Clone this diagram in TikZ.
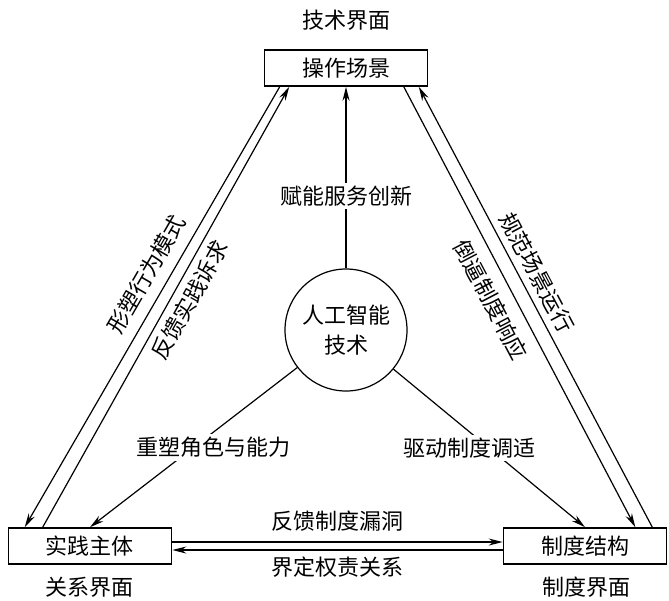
\documentclass[tikz,border=0pt]{standalone}
\usepackage{fontspec}
\setmainfont{Noto Sans CJK SC}
\usetikzlibrary{arrows.meta}
\tikzset{
	box/.style={draw, thick, minimum width=81.5pt, minimum height=18pt, inner sep=0pt},
	hub/.style={draw, semithick, circle, minimum size=61pt, inner sep=0pt, align=center, font=\fontsize{11}{15}\selectfont},
	link/.style={semithick, -{Stealth[length=7pt,width=3.5pt]}},
	tag/.style={fill=white, inner sep=1.5pt}
}
\begin{document}
\begin{tikzpicture}[x=0.5pt, y=-0.5pt, font=\fontsize{11}{13}\selectfont]
	\useasboundingbox (0,0) rectangle (669,600);
	% three interfaces
	\node[box] (scene) at (346,68) {操作场景};
	\node[box] (actor) at (90,546) {实践主体};
	\node[box] (rule) at (585,546) {制度结构};
	\node (techface) at (346,20) {技术界面};
	\node (relface) at (90,587) {关系界面};
	\node (ruleface) at (586,587) {制度界面};
	% centre
	\node[hub] (ai) at (346,330) {人工智能\\技术};
	\draw[link] (ai) -- (scene) node[tag, pos=0.4] {赋能服务创新};
	\draw[link] (ai) -- (actor.north) node[tag, midway, xshift=10pt] {重塑角色与能力};
	\draw[link] (ai) -- (rule.north) node[tag, midway, xshift=-10pt] {驱动制度调适};
	% sides
	\draw[link] ([xshift=8pt]scene.south west) -- ([xshift=8.5pt]actor.north west)
		node[pos=0.45, sloped, above=2pt] {形塑行为模式};
	\draw[link] ([xshift=17.5pt]actor.north west) -- ([xshift=12.75pt]scene.south west)
		node[pos=0.535, sloped, below] {反馈实践诉求};
	\draw[link] ([xshift=-12.25pt]scene.south east) -- ([xshift=-16pt]rule.north east)
		node[pos=0.46, sloped, below=2.3pt] {倒逼制度响应};
	\draw[link] ([xshift=-7.5pt]rule.north east) -- ([xshift=-4.75pt]scene.south east)
		node[pos=0.56, sloped, above] {规范场景运行};
	\draw[link] ([yshift=2pt]actor.east) -- ([yshift=2pt]rule.west)
		node[midway, above=1.5pt] {反馈制度漏洞};
	\draw[link] ([yshift=-2pt]rule.west) -- ([yshift=-2pt]actor.east)
		node[midway, below] {界定权责关系};
\end{tikzpicture}
\end{document}
